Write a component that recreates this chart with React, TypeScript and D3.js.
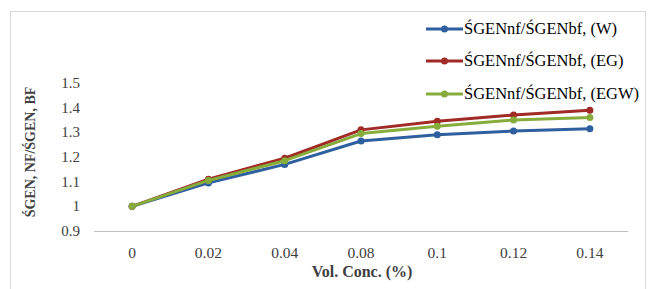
import React, { useRef, useEffect } from "react";
import * as d3 from "d3";

const categories = ["0", "0.02", "0.04", "0.08", "0.1", "0.12", "0.14"];
const seriesNames = ["ŚGENnf/ŚGENbf, (W)", "ŚGENnf/ŚGENbf, (EG)", "ŚGENnf/ŚGENbf, (EGW)"];
const waterValues = [1.0, 1.095, 1.17, 1.265, 1.29, 1.305, 1.315];
const egValues = [1.0, 1.11, 1.195, 1.31, 1.345, 1.37, 1.39];
const egwValues = [1.0, 1.105, 1.185, 1.295, 1.325, 1.35, 1.36];
const yTicks = [0.9, 1, 1.1, 1.2, 1.3, 1.4, 1.5];
const colors = ["#2e5f9e", "#a02a26", "#86ad3c"];

const App: React.FC = () => {
  const svgRef = useRef<SVGSVGElement>(null);

  useEffect(() => {
    if (!svgRef.current) return;
    const width = 652;
    const height = 289;
    const font = '"Liberation Serif", "DejaVu Serif", serif';

    const svg = d3
      .select(svgRef.current)
      .attr("width", width)
      .attr("height", height)
      .style("font-family", font);
    svg.selectAll("*").remove();

    // outer frame
    svg
      .append("rect")
      .attr("x", 10.5)
      .attr("y", 11.5)
      .attr("width", 635)
      .attr("height", 290)
      .attr("fill", "#fff")
      .attr("stroke", "#d9d9d9");

    const xScale = d3.scalePoint<string>().domain(categories).range([94, 628]).padding(0.5);
    const yScale = d3.scaleLinear().domain([0.9, 1.5]).range([231, 83]);

    // x axis line
    svg
      .append("line")
      .attr("x1", 94)
      .attr("x2", 628)
      .attr("y1", yScale(0.9) + 0.5)
      .attr("y2", yScale(0.9) + 0.5)
      .attr("stroke", "#bfbfbf");

    // y tick labels
    svg
      .append("g")
      .selectAll("text")
      .data(yTicks)
      .enter()
      .append("text")
      .attr("x", 80)
      .attr("y", (d) => yScale(d) + 5)
      .attr("text-anchor", "end")
      .style("font-family", font)
      .style("font-size", "15px")
      .attr("fill", "#404040")
      .text((d) => String(d));

    // x tick labels
    svg
      .append("g")
      .selectAll("text")
      .data(categories)
      .enter()
      .append("text")
      .attr("x", (d) => xScale(d) ?? 0)
      .attr("y", 258)
      .attr("text-anchor", "middle")
      .style("font-family", font)
      .style("font-size", "15.5px")
      .attr("fill", "#404040")
      .text((d) => d);

    // axis titles
    svg
      .append("text")
      .attr("x", 362)
      .attr("y", 277)
      .attr("text-anchor", "middle")
      .style("font-family", font)
      .style("font-weight", "bold")
      .style("font-size", "16px")
      .attr("fill", "#404040")
      .text("Vol. Conc. (%)");

    svg
      .append("text")
      .attr("transform", "translate(35,152) rotate(-90)")
      .attr("text-anchor", "middle")
      .style("font-family", font)
      .style("font-weight", "bold")
      .style("font-size", "14px")
      .attr("fill", "#404040")
      .text("ŚGEN, NF/ŚGEN, BF");

    const allSeries = [waterValues, egValues, egwValues];
    const line = d3
      .line<number>()
      .x((_, i) => xScale(categories[i]) ?? 0)
      .y((d) => yScale(d));

    allSeries.forEach((values, si) => {
      const g = svg.append("g");
      g.append("path")
        .datum(values)
        .attr("d", line)
        .attr("fill", "none")
        .attr("stroke", colors[si])
        .attr("stroke-width", 3)
        .attr("stroke-linejoin", "round");
      g.selectAll("circle")
        .data(values)
        .enter()
        .append("circle")
        .attr("cx", (_, i) => xScale(categories[i]) ?? 0)
        .attr("cy", (d) => yScale(d))
        .attr("r", 3.5)
        .attr("fill", colors[si]);
    });

    // legend
    const legendY = [29, 61, 94];
    seriesNames.forEach((name, i) => {
      const g = svg.append("g").attr("transform", `translate(426,${legendY[i]})`);
      g.append("line")
        .attr("x1", 0)
        .attr("x2", 37)
        .attr("stroke", colors[i])
        .attr("stroke-width", 3);
      g.append("circle").attr("cx", 18.5).attr("r", 3.5).attr("fill", colors[i]);
      g.append("text")
        .attr("x", 38)
        .attr("y", 5)
        .style("font-family", font)
        .style("font-size", "16.5px")
        .attr("fill", "#000")
        .text(name);
    });
  }, []);

  return <svg ref={svgRef} style={{ position: "absolute", left: 0, top: 0 }}></svg>;
};

export default App;
